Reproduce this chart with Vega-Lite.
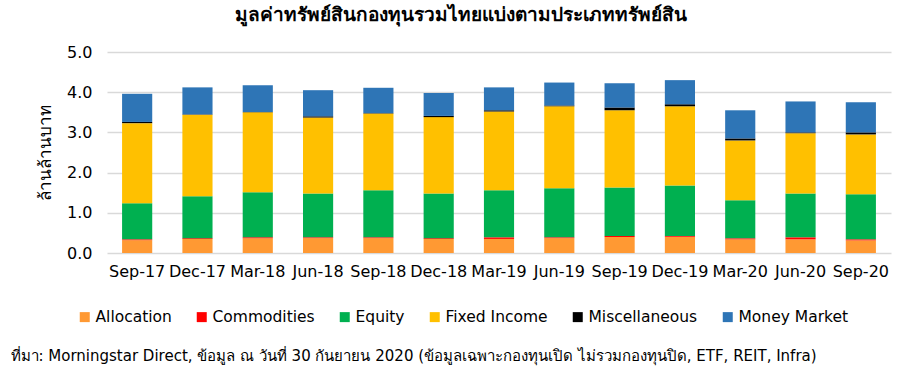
{
  "$schema": "https://vega.github.io/schema/vega-lite/v6.json",
  "width": 784,
  "height": 201,
  "autosize": "none",
  "padding": {"left": 107, "top": 52, "right": 28, "bottom": 119},
  "background": "white",
  "title": {
    "text": "มูลค่าทรัพย์สินกองทุนรวมไทยแบ่งตามประเภททรัพย์สิน",
    "font": "Tahoma, DejaVu Sans, sans-serif",
    "fontSize": 19,
    "fontWeight": "bold",
    "color": "#000000",
    "anchor": "middle",
    "dx": -38,
    "offset": 19
  },
  "config": {
    "view": {"stroke": null},
    "font": "Tahoma, DejaVu Sans, sans-serif"
  },
  "data": {
    "values": [
      {"period": "Sep-17", "type": "Allocation", "value": 0.32},
      {"period": "Sep-17", "type": "Commodities", "value": 0.02},
      {"period": "Sep-17", "type": "Equity", "value": 0.90},
      {"period": "Sep-17", "type": "Fixed Income", "value": 1.99},
      {"period": "Sep-17", "type": "Miscellaneous", "value": 0.03},
      {"period": "Sep-17", "type": "Money Market", "value": 0.70},
      {"period": "Dec-17", "type": "Allocation", "value": 0.35},
      {"period": "Dec-17", "type": "Commodities", "value": 0.02},
      {"period": "Dec-17", "type": "Equity", "value": 1.04},
      {"period": "Dec-17", "type": "Fixed Income", "value": 2.03},
      {"period": "Dec-17", "type": "Miscellaneous", "value": 0.01},
      {"period": "Dec-17", "type": "Money Market", "value": 0.67},
      {"period": "Mar-18", "type": "Allocation", "value": 0.37},
      {"period": "Mar-18", "type": "Commodities", "value": 0.02},
      {"period": "Mar-18", "type": "Equity", "value": 1.12},
      {"period": "Mar-18", "type": "Fixed Income", "value": 1.99},
      {"period": "Mar-18", "type": "Miscellaneous", "value": 0.01},
      {"period": "Mar-18", "type": "Money Market", "value": 0.66},
      {"period": "Jun-18", "type": "Allocation", "value": 0.37},
      {"period": "Jun-18", "type": "Commodities", "value": 0.02},
      {"period": "Jun-18", "type": "Equity", "value": 1.09},
      {"period": "Jun-18", "type": "Fixed Income", "value": 1.89},
      {"period": "Jun-18", "type": "Miscellaneous", "value": 0.03},
      {"period": "Jun-18", "type": "Money Market", "value": 0.65},
      {"period": "Sep-18", "type": "Allocation", "value": 0.37},
      {"period": "Sep-18", "type": "Commodities", "value": 0.02},
      {"period": "Sep-18", "type": "Equity", "value": 1.17},
      {"period": "Sep-18", "type": "Fixed Income", "value": 1.91},
      {"period": "Sep-18", "type": "Miscellaneous", "value": 0.01},
      {"period": "Sep-18", "type": "Money Market", "value": 0.63},
      {"period": "Dec-18", "type": "Allocation", "value": 0.35},
      {"period": "Dec-18", "type": "Commodities", "value": 0.02},
      {"period": "Dec-18", "type": "Equity", "value": 1.11},
      {"period": "Dec-18", "type": "Fixed Income", "value": 1.90},
      {"period": "Dec-18", "type": "Miscellaneous", "value": 0.03},
      {"period": "Dec-18", "type": "Money Market", "value": 0.57},
      {"period": "Mar-19", "type": "Allocation", "value": 0.35},
      {"period": "Mar-19", "type": "Commodities", "value": 0.04},
      {"period": "Mar-19", "type": "Equity", "value": 1.17},
      {"period": "Mar-19", "type": "Fixed Income", "value": 1.96},
      {"period": "Mar-19", "type": "Miscellaneous", "value": 0.03},
      {"period": "Mar-19", "type": "Money Market", "value": 0.57},
      {"period": "Jun-19", "type": "Allocation", "value": 0.37},
      {"period": "Jun-19", "type": "Commodities", "value": 0.02},
      {"period": "Jun-19", "type": "Equity", "value": 1.22},
      {"period": "Jun-19", "type": "Fixed Income", "value": 2.04},
      {"period": "Jun-19", "type": "Miscellaneous", "value": 0.02},
      {"period": "Jun-19", "type": "Money Market", "value": 0.57},
      {"period": "Sep-19", "type": "Allocation", "value": 0.40},
      {"period": "Sep-19", "type": "Commodities", "value": 0.02},
      {"period": "Sep-19", "type": "Equity", "value": 1.21},
      {"period": "Sep-19", "type": "Fixed Income", "value": 1.92},
      {"period": "Sep-19", "type": "Miscellaneous", "value": 0.07},
      {"period": "Sep-19", "type": "Money Market", "value": 0.60},
      {"period": "Dec-19", "type": "Allocation", "value": 0.40},
      {"period": "Dec-19", "type": "Commodities", "value": 0.02},
      {"period": "Dec-19", "type": "Equity", "value": 1.26},
      {"period": "Dec-19", "type": "Fixed Income", "value": 1.97},
      {"period": "Dec-19", "type": "Miscellaneous", "value": 0.05},
      {"period": "Dec-19", "type": "Money Market", "value": 0.60},
      {"period": "Mar-20", "type": "Allocation", "value": 0.34},
      {"period": "Mar-20", "type": "Commodities", "value": 0.025},
      {"period": "Mar-20", "type": "Equity", "value": 0.945},
      {"period": "Mar-20", "type": "Fixed Income", "value": 1.49},
      {"period": "Mar-20", "type": "Miscellaneous", "value": 0.05},
      {"period": "Mar-20", "type": "Money Market", "value": 0.70},
      {"period": "Jun-20", "type": "Allocation", "value": 0.34},
      {"period": "Jun-20", "type": "Commodities", "value": 0.05},
      {"period": "Jun-20", "type": "Equity", "value": 1.09},
      {"period": "Jun-20", "type": "Fixed Income", "value": 1.50},
      {"period": "Jun-20", "type": "Miscellaneous", "value": 0.02},
      {"period": "Jun-20", "type": "Money Market", "value": 0.77},
      {"period": "Sep-20", "type": "Allocation", "value": 0.315},
      {"period": "Sep-20", "type": "Commodities", "value": 0.025},
      {"period": "Sep-20", "type": "Equity", "value": 1.12},
      {"period": "Sep-20", "type": "Fixed Income", "value": 1.49},
      {"period": "Sep-20", "type": "Miscellaneous", "value": 0.05},
      {"period": "Sep-20", "type": "Money Market", "value": 0.75}
    ]
  },
  "mark": {"type": "bar"},
  "encoding": {
    "x": {
      "field": "period",
      "type": "nominal",
      "sort": null,
      "scale": {"paddingInner": 0.5, "paddingOuter": 0.25},
      "axis": {
        "title": "ที่มา: Morningstar Direct, ข้อมูล ณ วันที่ 30 กันยายน 2020 (ข้อมูลเฉพาะกองทุนเปิด ไม่รวมกองทุนปิด, ETF, REIT, Infra)",
        "titleFontSize": 15,
        "titleFontWeight": "normal",
        "titleColor": "#000000",
        "titleAnchor": "start",
        "titleAlign": "left",
        "titleBaseline": "middle",
        "titleX": -97,
        "titleY": 102,
        "labelAngle": 0,
        "labelFontSize": 16,
        "labelColor": "#000000",
        "labelPadding": 10,
        "domain": false,
        "ticks": false
      }
    },
    "y": {
      "field": "value",
      "type": "quantitative",
      "stack": "zero",
      "scale": {"domain": [0, 5]},
      "axis": {
        "title": "ล้านล้านบาท",
        "titleFontSize": 17,
        "titleFontWeight": "normal",
        "titleColor": "#000000",
        "titlePadding": 12,
        "values": [0, 1, 2, 3, 4, 5],
        "format": ".1f",
        "labelFontSize": 16,
        "labelColor": "#000000",
        "labelPadding": 15,
        "gridColor": "#d9d9d9",
        "gridWidth": 1.5,
        "domain": false,
        "ticks": false
      }
    },
    "color": {
      "field": "type",
      "type": "nominal",
      "scale": {
        "domain": ["Allocation", "Commodities", "Equity", "Fixed Income", "Miscellaneous", "Money Market"],
        "range": ["#ff9933", "#ff0000", "#00b050", "#ffc000", "#000000", "#2e75b6"]
      },
      "legend": {
        "title": null,
        "orient": "none",
        "direction": "horizontal",
        "legendX": -30,
        "legendY": 257,
        "symbolType": "square",
        "symbolSize": 100,
        "symbolStrokeWidth": 0,
        "labelFontSize": 15.5,
        "labelColor": "#000000",
        "labelOffset": 3,
        "columnPadding": 22
      }
    },
    "order": {"field": "type", "sort": "ascending"}
  }
}
